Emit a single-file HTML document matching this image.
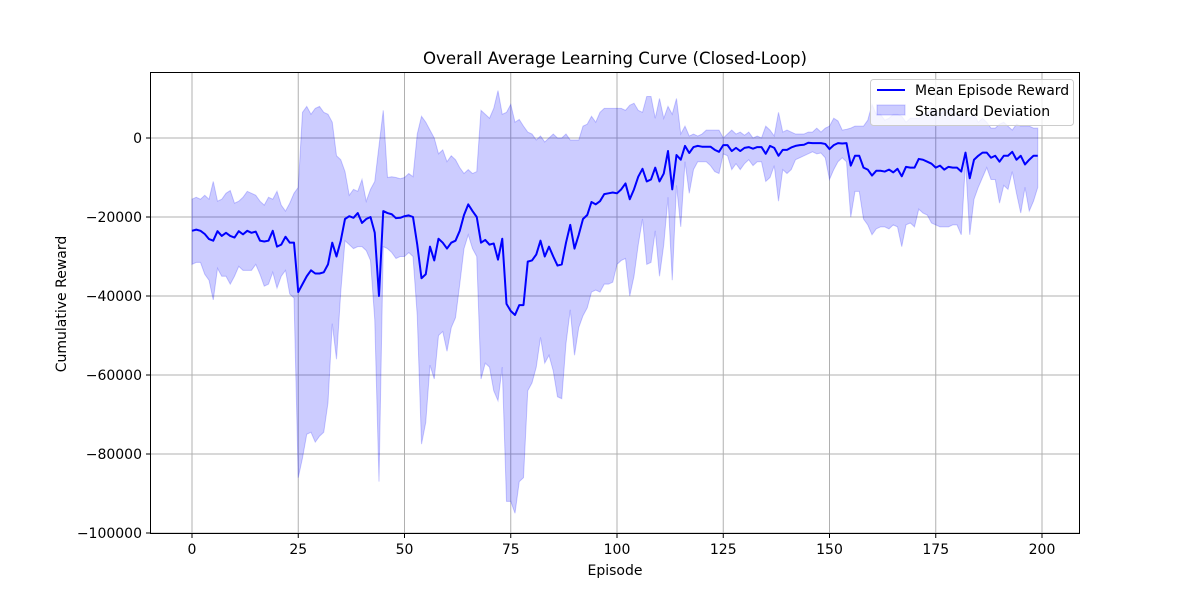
<!DOCTYPE html>
<html><head><meta charset="utf-8"><style>body{margin:0;background:#fff}svg{display:block;font-family:"DejaVu Sans","Liberation Sans",sans-serif}</style></head>
<body>
<svg id="chart" width="1200" height="600" xmlns="http://www.w3.org/2000/svg">
<rect width="1200" height="600" fill="#fff"/>
<g id="grid"></g>
<g id="band"></g>
<g id="line"></g>
<rect x="150.5" y="72.5" width="929" height="461" fill="none" stroke="#000" stroke-width="1"/>
<g id="ticks" font-size="14"></g>
<text x="615" y="64" text-anchor="middle" font-size="16.6">Overall Average Learning Curve (Closed-Loop)</text>
<text x="615" y="575" text-anchor="middle" font-size="14">Episode</text>
<text transform="translate(66,304) rotate(-90)" text-anchor="middle" font-size="14">Cumulative Reward</text>
<g>
<rect x="870.5" y="79.5" width="203" height="46" rx="3" fill="#fff" fill-opacity="0.8" stroke="#ccc"/>
<line x1="877" y1="90" x2="905" y2="90" stroke="#0000ff" stroke-width="2"/>
<text x="915" y="95" font-size="14">Mean Episode Reward</text>
<rect x="877" y="105" width="28" height="10" fill="#0000ff" fill-opacity="0.2" stroke="#0000ff" stroke-opacity="0.2"/>
<text x="915" y="116" font-size="14">Standard Deviation</text>
</g>
</svg>
<script>
const meanK=[-23.5,-23.2,-23.5,-24.3,-25.6,-26,-23.6,-24.8,-24,-24.8,-25.2,-23.6,-24.4,-23.5,-24,-23.7,-26,-26.2,-26,-23.5,-27.5,-27,-25,-26.5,-26.5,-39,-37,-35,-33.5,-34.3,-34.3,-34,-32,-26.5,-30,-26,-20.5,-19.8,-20.2,-19,-21.5,-20.5,-20,-24,-40,-18.5,-19,-19.3,-20.3,-20.2,-19.8,-19.6,-20,-27,-35.5,-34.5,-27.5,-31,-25.5,-26.5,-28,-26.5,-26,-23.5,-19.5,-16.8,-18.5,-20,-26.5,-25.8,-27,-26.7,-30.8,-25.5,-42,-43.8,-44.8,-42.3,-42.3,-31.3,-31,-29.5,-26,-30,-27.5,-30,-32.3,-32,-26.5,-22,-28,-24.5,-20.5,-19.5,-16.2,-16.8,-16,-14.2,-14,-13.8,-14,-13,-11.5,-15.5,-13,-9.8,-7.8,-11,-10.5,-7.5,-11,-9,-3.3,-13,-4.3,-5.5,-2,-3.8,-2.3,-2,-2.2,-2.2,-2.2,-3,-3.5,-1.8,-1.8,-3.3,-2.5,-3.3,-2.5,-2.3,-2.7,-2.3,-2.3,-4,-2,-2.5,-4.5,-3,-3,-2.4,-2,-1.8,-1.7,-1.2,-1.3,-1.3,-1.3,-1.5,-2.8,-1.8,-1.3,-1.4,-1.3,-7,-4.5,-4.5,-7.5,-8,-9.5,-8.3,-8.3,-8.5,-8,-8.7,-7.8,-9.7,-7.3,-7.5,-7.5,-5.3,-5.5,-6,-6.5,-7.5,-7,-8,-7.3,-7.5,-7.5,-8.5,-3.7,-10.2,-5.5,-4.5,-3.7,-3.7,-5,-4.5,-6,-4.5,-4.5,-3.5,-5.5,-4.5,-6.7,-5.5,-4.5,-4.5];
const upperK=[-15.5,-15,-15.5,-14.5,-15.5,-11,-16,-15.5,-14,-13.3,-16.5,-16,-15,-13.5,-14,-14.5,-16,-17,-15,-15.5,-13.5,-17,-18.5,-16.5,-14,-12.5,6.5,8,6,7.5,8,6.5,6,4,-4.5,-5.5,-8.5,-14.5,-13,-13.5,-10.5,-16,-13,-11,-2,7,-10,-9.8,-10,-10.3,-10,-9,-9.8,1,5.5,4,2,0,-4,-3,-6,-4.5,-5.5,-7.5,-9,-8,-9,-8.5,7,6,5,7.5,12,6,6.5,8.5,4,4.7,3,1.5,1,-0.5,0.5,-1,0,1,0,0,1,-0.5,-0.5,-0.5,3,3.5,5.5,4,6.5,7.5,7.5,7.5,7.5,7.5,7,8.3,8.8,7,6.5,10.5,10.5,5,10,5,8,6,10,1,3,0.5,1,0.5,1,2,2,2,2,0,1,2,1,1.5,0.7,1.5,0,0.5,0,3,2,0.5,6.5,1.5,2,1.5,1,1,1,1.5,1.5,2.5,1.5,2.5,3,5,4.3,2,2.2,2.5,3,3,3,4.5,8.5,6,6,4.5,5,6,6,5.5,4,5,5,5,6,6.5,7,7,6,7,7,7,6,6,6,5,6,4,5,4,2.5,2.5,3.5,4,3,2,3.5,3,3,3,2.5,2.5];
const lowerK=[-32,-31.5,-31.5,-34.5,-36,-41,-33,-35,-35,-37,-35,-32.5,-33.5,-33.5,-33.5,-32,-34.5,-37.5,-37,-34,-38,-35,-33.5,-39.5,-40.5,-86,-81,-75,-74.5,-77,-75.5,-74.5,-67,-47,-56,-39,-26,-27,-28,-27.5,-27.5,-28.5,-31,-46,-87,-27.5,-28,-29,-30.5,-30,-30,-29,-30,-45,-77.5,-72,-57.5,-61,-50,-49,-54,-48,-45.5,-37,-28,-24.5,-28,-30,-61,-57,-58,-64,-66.5,-58,-92,-92,-95,-87,-86,-64,-62,-58,-50.5,-57,-55,-59,-65.5,-66,-52,-43.5,-55,-48,-45,-43,-39,-38.5,-39,-37,-37,-36.5,-32,-31,-30.5,-40,-35,-27,-20.5,-32,-31.5,-23.5,-35,-27,-15,-36,-12,-22.5,-6,-14,-8,-6,-6,-6,-7,-8.5,-9,-4,-4.5,-8,-6.5,-8,-6.5,-5.5,-7,-6,-6,-11,-10,-7,-16,-8,-9,-8,-5.5,-5,-4.5,-4,-3.5,-4,-3.8,-5,-10.5,-8,-6,-5,-6,-20,-13.5,-13.5,-20.5,-22,-24.5,-23,-22.5,-22.5,-23,-22,-22.5,-27.5,-22,-21.5,-22.5,-18,-19,-19.5,-21.5,-22,-22.5,-22.5,-22.5,-22,-22,-24.5,-6,-24.5,-15.5,-12.5,-10,-7.5,-10.5,-10.5,-16.5,-12,-13,-8.5,-14,-19,-12.5,-18.5,-16,-12.5];
const xTicks=[0,25,50,75,100,125,150,175,200];
const yTicks=[0,-20000,-40000,-60000,-80000,-100000];

const NS='http://www.w3.org/2000/svg';
const xs=e=>192+e*4.25;
const ys=v=>138-v*0.00395;
function mk(tag,attrs,parent){const el=document.createElementNS(NS,tag);for(const k in attrs)el.setAttribute(k,attrs[k]);parent.appendChild(el);return el;}
const grid=document.getElementById('grid'),ticks=document.getElementById('ticks');
xTicks.forEach(t=>{const x=xs(t);
 const g=mk('line',{x1:x,x2:x,y1:72,y2:534,stroke:'#b0b0b0','stroke-width':1},grid);
 
 
 const tk=mk('line',{x1:x,x2:x,y1:534,y2:538,stroke:'#000'},ticks);
 
 
 const tx=mk('text',{x:x,y:554,'text-anchor':'middle'},ticks);tx.textContent=t;
 
 
});
yTicks.forEach(t=>{const y=ys(t);
 const g=mk('line',{x1:150,x2:1080,y1:y,y2:y,stroke:'#b0b0b0','stroke-width':1},grid);
 
 
 const tk=mk('line',{x1:146,x2:150,y1:y,y2:y,stroke:'#000'},ticks);
 
 
 const tx=mk('text',{x:142,y:y+5,'text-anchor':'end'},ticks);tx.textContent=String(t).replace('-','\u2212');
 
 
});
let d='';upperK.forEach((v,i)=>{d+=(i?'L':'M')+xs(i).toFixed(2)+','+ys(v*1000).toFixed(2);});
for(let i=lowerK.length-1;i>=0;i--)d+='L'+xs(i).toFixed(2)+','+ys(lowerK[i]*1000).toFixed(2);
d+='Z';
const band=mk('path',{d:d,fill:'#0000ff','fill-opacity':0.2,stroke:'#0000ff','stroke-opacity':0.2},document.getElementById('band'));


let m='';meanK.forEach((v,i)=>{m+=(i?'L':'M')+xs(i).toFixed(2)+','+ys(v*1000).toFixed(2);});
const ln=mk('path',{d:m,fill:'none',stroke:'#0000ff','stroke-width':2,'stroke-linejoin':'round'},document.getElementById('line'));


</script>
</body></html>
